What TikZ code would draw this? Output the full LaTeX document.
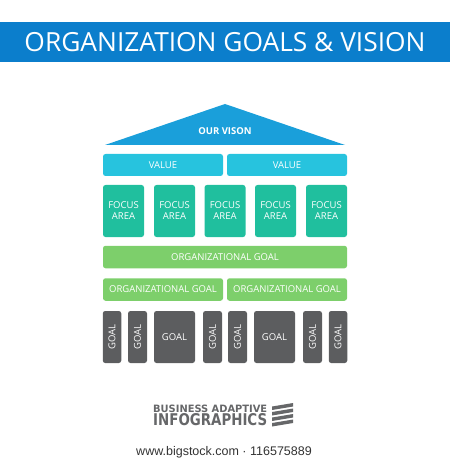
\documentclass[tikz,border=0pt]{standalone}
\usepackage{fontspec}
\setmainfont{Open Sans}
\newfontfamily\logofont{DejaVu Sans Condensed}
\newfontfamily\footfont{Liberation Sans}
\definecolor{titleblue}{HTML}{0B7ECC}
\definecolor{roofblue}{HTML}{1A9FDA}
\definecolor{valcyan}{HTML}{27C3DE}
\definecolor{focusteal}{HTML}{20BF9E}
\definecolor{orggreen}{HTML}{7DCF6B}
\definecolor{goalgray}{HTML}{5C5D5F}
\definecolor{logogray}{HTML}{666769}
\tikzset{
  tile/.style={rounded corners=2.5pt, inner sep=0pt, text=white, align=center, font=\fontsize{9.5}{11}\selectfont},
  valbox/.style={tile, fill=valcyan, minimum width=120pt, minimum height=22pt},
  focusbox/.style={tile, fill=focusteal, minimum width=41pt, minimum height=52pt},
  orgbox/.style={tile, fill=orggreen, minimum height=22.5pt},
  goalbox/.style={tile, fill=goalgray, minimum height=52pt},
  goaltext/.style={text=white, inner sep=0pt, font=\fontsize{9.5}{11}\selectfont},
}
\begin{document}
\begin{tikzpicture}[x=1pt,y=-1pt]
\useasboundingbox (0,0) rectangle (450,470);
% title bar
\fill[titleblue] (0,22) rectangle (450,62.5);
\node[text=white, inner sep=0pt, font=\fontsize{28}{30}\selectfont] (title) at (225,42.5) {\resizebox{401pt}{!}{ORGANIZATION GOALS \& VISION}};
% roof
\fill[roofblue] (105,145) -- (225,104) -- (345,145) -- cycle;
\node[text=white, inner sep=0pt, font=\fontsize{9.5}{11}\bfseries\selectfont] (vision) at (225,131) {OUR VISON};
% values
\node[valbox] (v1) at (163,165) {VALUE};
\node[valbox] (v2) at (287,165) {VALUE};
% focus areas
\foreach \i/\x in {1/123.5,2/174.5,3/225,4/275.5,5/326.5}
  \node[focusbox] (f\i) at (\x,211) {FOCUS\\AREA};
% organizational goals
\node[orgbox, minimum width=244pt] (o0) at (225,257) {ORGANIZATIONAL GOAL};
\node[orgbox, minimum width=120pt] (o1) at (163,289.5) {ORGANIZATIONAL GOAL};
\node[orgbox, minimum width=120pt] (o2) at (287,289.5) {ORGANIZATIONAL GOAL};
% goals
\foreach \i/\x/\w in {1/112/18.5,2/137.5/19,4/212.5/19,5/237.5/19,7/312.5/19,8/338/18.5}{
  \node[goalbox, minimum width=\w pt] (g\i) at (\x,337) {};
  \node[goaltext, rotate=90] at (g\i) {GOAL};
}
\node[goalbox, minimum width=41pt] (g3) at (174.5,337) {GOAL};
\node[goalbox, minimum width=41pt] (g6) at (274.5,337) {GOAL};
% logo
\node[anchor=west, inner sep=0pt, text=logogray] (logo1) at (153,408.5) {\logofont\bfseries\resizebox{114pt}{7.5pt}{BUSINESS ADAPTIVE}};
\node[anchor=west, inner sep=0pt, text=logogray] (logo2) at (153,420) {\logofont\bfseries\resizebox{114pt}{12pt}{INFOGRAPHICS}};
\foreach \k in {0,1,2,3}
  \fill[logogray] (272,{406.5+5.5*\k}) -- (293,{403+5.5*\k}) -- (293,{406.5+5.5*\k}) -- (272,{410+5.5*\k}) -- cycle;
% footer
\node[text=black!80, inner sep=0pt, font=\footfont\fontsize{12.5}{14}\selectfont] (foot) at (224,452) {www.bigstock.com · 116575889};
\end{tikzpicture}
\end{document}
